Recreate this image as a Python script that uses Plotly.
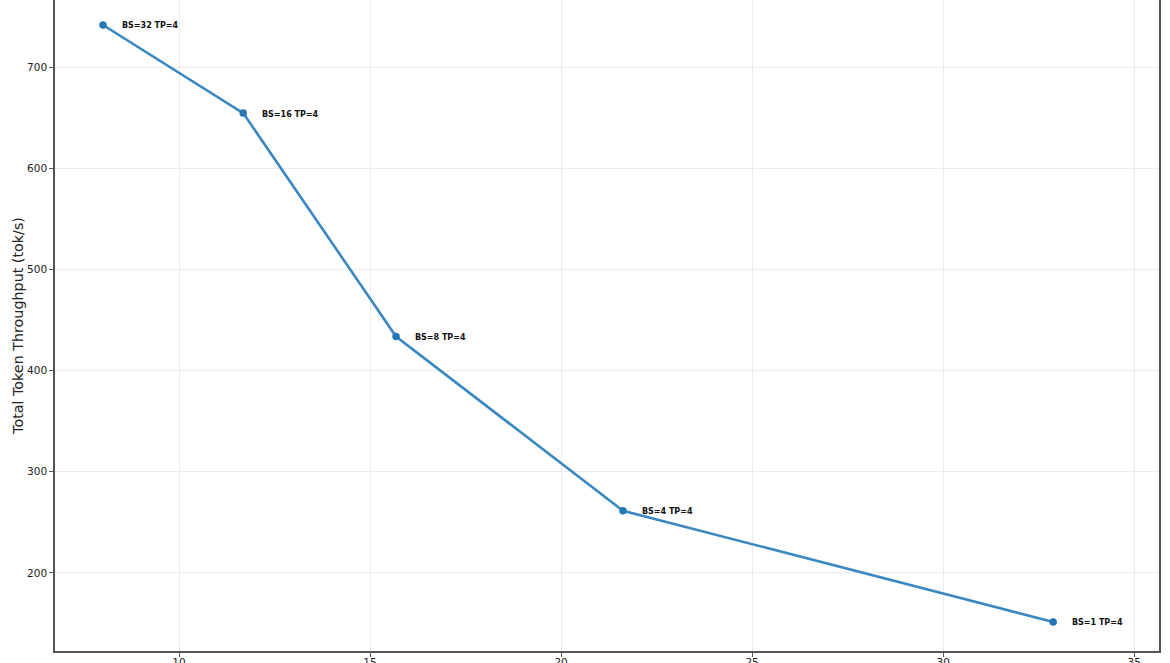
import plotly.graph_objects as go

latency = [8.01, 11.68, 15.68, 21.62, 32.88]
throughput = [741.6, 654.5, 433.7, 261.4, 151.5]
labels = ["BS=32 TP=4", "BS=16 TP=4", "BS=8 TP=4", "BS=4 TP=4", "BS=1 TP=4"]

fig = go.Figure()
fig.add_trace(go.Scatter(
    x=latency, y=throughput, mode="lines",
    line=dict(color="#3a88c1", width=2.6), hoverinfo="skip", showlegend=False))
fig.add_trace(go.Scatter(
    x=latency, y=throughput, mode="markers",
    marker=dict(color="#2677b6", size=7.5), showlegend=False))

for x, y, t in zip(latency, throughput, labels):
    fig.add_annotation(x=x, y=y, text="<b>" + t + "</b>", showarrow=False,
                       xanchor="left", yanchor="middle", xshift=17, yshift=-1,
                       font=dict(family="DejaVu Sans", size=8, color="#111111"))

fig.update_layout(
    width=1170, height=663,
    margin=dict(l=55, r=11, t=0, b=12, autoexpand=False),
    plot_bgcolor="white", paper_bgcolor="white",
    font=dict(family="DejaVu Sans", size=10.5, color="#222222"),
    xaxis=dict(range=[6.754, 35.65], tickvals=[10, 15, 20, 25, 30, 35],
               automargin=False, ticklabelstandoff=-3,
               showgrid=True, gridcolor="#ebebeb", gridwidth=1,
               showline=True, linecolor="#555555", linewidth=1.6, mirror=False,
               ticks="outside", ticklen=4, tickcolor="#555555", zeroline=False),
    yaxis=dict(range=[122.8, 766.3], tickvals=[200, 300, 400, 500, 600, 700],
               automargin=False,
               showgrid=True, gridcolor="#ebebeb", gridwidth=1,
               showline=True, linecolor="#555555", linewidth=1.6, mirror=True,
               ticks="outside", ticklen=4, tickcolor="#555555", zeroline=False,
               title=dict(text="Total Token Throughput (tok/s)",
                          font=dict(family="DejaVu Sans", size=14.3, color="#222222"),
                          standoff=0)),
)

fig.write_html("out.html", config={"displayModeBar": False},
               post_script="document.body.style.margin='0';document.body.style.overflow='hidden';")
